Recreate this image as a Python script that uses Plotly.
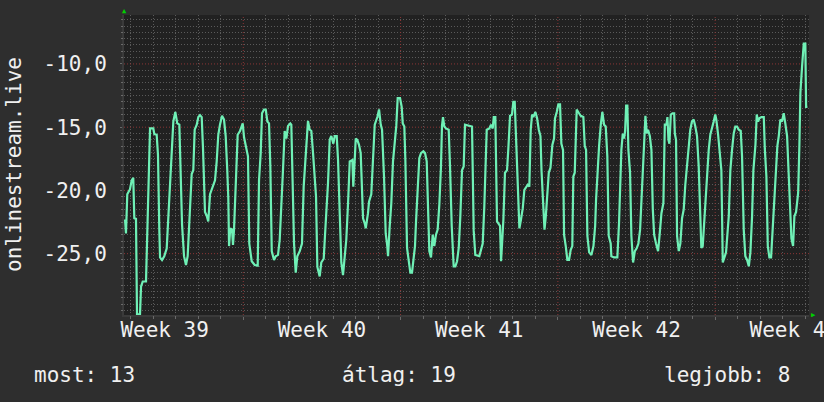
import pandas as pd
import plotly.graph_objects as go

# ---------------- data (hours after series start, value) ----------------
hours_a = [1.1, 2.1, 3.5, 6.4, 8.2, 9.9, 11.0, 12.8, 13.9, 17.1,
           18.2, 20.0, 23.5, 24.6, 26.4, 27.8, 31.3, 32.4, 34.9, 36.3,
           37.7, 38.5, 40.6, 43.0, 45.6, 48.1, 50.2, 51.6, 52.7, 54.8,
           56.9, 59.1, 60.1, 62.0, 64.1, 66.2, 68.0, 69.7, 72.3, 74.0,
           75.5, 77.7, 79.4, 81.2, 83.0, 84.4, 85.4, 86.5, 88.3, 90.0,
           91.9, 94.7, 97.2, 99.0, 100.7, 102.5, 104.7, 106.8, 108.6, 110.3,
           111.4, 112.2, 113.5, 115.4, 116.4, 117.5, 118.6, 120.4, 121.4, 123.9,
           125.7, 126.8, 128.2, 130.3, 132.4, 133.8, 136.4, 139.6, 142.8]
values_a = [-22.3, -23.4, -20.3, -19.9, -19.2, -19.0, -22.2, -22.25, -29.8, -29.8,
            -27.6, -27.2, -27.2, -23.8, -20.5, -15.1, -15.1, -15.55, -15.6, -17.2,
            -23.1, -25.3, -25.5, -25.2, -24.6, -20.9, -18.8, -16.0, -14.55, -13.8,
            -14.7, -14.8, -17.2, -22.7, -25.2, -25.9, -25.2, -22.8, -18.7, -18.4,
            -15.2, -14.8, -14.2, -14.05, -14.2, -16.7, -18.6, -21.7, -22.0, -22.45,
            -20.3, -19.7, -19.2, -17.7, -15.6, -14.8, -14.1, -14.4, -15.7, -18.4,
            -20.6, -24.4, -23.0, -23.1, -24.3, -23.1, -20.6, -17.8, -15.6, -15.3,
            -14.95, -14.7, -15.8, -16.5, -17.3, -24.2, -25.6, -25.9, -25.95]

hours_b = [144.2, 146.0, 147.4, 149.5, 151.4, 153.1, 154.9, 156.3, 157.8, 160.2,
           162.0, 164.5, 166.3, 168.0, 169.8, 171.6, 173.4, 175.2, 177.6, 178.7,
           179.8, 181.6, 183.4, 185.1, 187.7, 190.1, 191.9, 193.7, 195.5, 196.5,
           198.3, 200.1, 201.9, 203.7, 205.1, 206.5, 209.0, 210.7, 213.3, 215.4,
           217.9, 219.7, 221.4, 223.6, 225.1, 227.2, 228.6, 230.4, 232.1, 233.9,
           235.7, 237.4, 239.3, 241.1, 243.9, 244.9, 246.4, 247.5, 249.2, 251.0,
           252.8, 254.2, 255.3, 257.1, 258.2, 260.6, 261.7, 264.1, 266.0, 267.8,
           270.6, 272.4, 274.2, 275.6, 277.7, 279.5, 281.2, 282.0, 283.8, 285.5,
           287.3, 289.1, 290.8]
values_b = [-19.2, -17.05, -13.9, -13.6, -13.6, -14.55, -14.7, -18.1, -24.8, -25.5,
            -25.2, -25.1, -23.9, -20.6, -18.4, -15.3, -15.9, -14.9, -14.7, -14.8,
            -18.9, -24.2, -26.5, -25.2, -24.8, -24.2, -19.7, -17.8, -16.0, -14.5,
            -15.2, -15.3, -17.05, -18.9, -20.5, -26.05, -26.8, -25.7, -25.4, -22.6,
            -19.4, -16.0, -15.7, -16.3, -15.7, -15.7, -17.6, -21.8, -25.7, -26.7,
            -25.5, -23.9, -21.0, -17.7, -17.6, -19.7, -17.6, -15.9, -16.0, -16.4,
            -17.05, -19.95, -22.2, -22.6, -23.0, -21.8, -20.9, -20.3, -17.8, -14.8,
            -14.2, -13.6, -14.8, -15.2, -18.9, -23.4, -24.4, -25.2, -22.8, -21.0,
            -17.7, -16.3, -14.9]

hours_c = [292.3, 294.8, 296.6, 297.7, 299.4, 300.5, 302.3, 304.1, 305.8, 307.6,
           309.0, 310.8, 311.9, 313.7, 315.4, 317.2, 319.7, 321.5, 323.3, 325.0,
           326.1, 327.9, 329.7, 331.4, 333.2, 335.0, 336.8, 338.5, 339.6, 340.7,
           342.1, 343.9, 346.8, 348.2, 350.0, 352.1, 353.9, 355.7, 357.5, 359.2,
           361.0, 362.8, 364.2, 371.7, 373.5, 375.2, 379.5, 381.3, 383.1, 384.8,
           386.7, 387.4, 390.2, 392.0, 393.8, 394.9, 396.6, 397.3, 398.4, 401.6,
           402.7, 403.8, 405.2, 406.9, 409.1, 410.5, 412.3, 414.4, 415.8, 417.3,
           418.4, 419.5, 420.9, 422.3, 424.0, 425.9, 427.6, 431.2, 432.9, 434.4,
           435.8, 437.2, 439.4]
values_c = [-12.7, -12.7, -13.4, -14.7, -14.95, -17.6, -24.55, -25.5, -26.5, -26.5,
            -25.6, -24.4, -22.45, -19.55, -17.45, -17.05, -16.9, -17.05, -17.7, -22.05,
            -24.8, -25.3, -23.5, -24.4, -23.5, -23.1, -21.1, -18.2, -14.9, -14.2,
            -14.95, -15.1, -15.2, -18.1, -22.8, -26.0, -26.0, -25.6, -24.55, -22.05,
            -18.4, -18.1, -14.8, -14.95, -23.2, -25.1, -25.2, -24.7, -24.2, -21.3,
            -17.8, -15.2, -15.1, -14.8, -15.1, -14.2, -14.2, -17.3, -22.45, -22.8,
            -25.6, -24.2, -22.3, -18.6, -18.4, -16.7, -14.1, -14.0, -13.0, -13.0,
            -15.2, -17.4, -21.3, -23.0, -22.3, -21.4, -19.95, -19.55, -19.7, -15.2,
            -14.0, -14.2, -13.8]

hours_d = [441.2, 443.0, 444.8, 445.9, 447.6, 449.1, 450.5, 451.9, 453.7, 455.5,
           457.5, 459.3, 460.3, 462.2, 463.9, 465.7, 467.1, 468.9, 470.0, 471.8,
           473.5, 475.3, 477.1, 478.8, 479.9, 481.4, 482.5, 483.5, 486.0, 487.8,
           490.6, 492.1, 493.5, 494.9, 496.8, 499.2, 501.4, 503.2, 504.2, 505.6,
           507.4, 509.2, 510.9, 512.7, 514.5, 516.2, 517.7, 519.8, 520.5, 523.4,
           526.9, 528.7, 529.8, 531.2, 532.7, 534.1, 535.2, 536.3, 537.6, 538.7,
           540.5, 541.9, 543.7, 545.6, 547.7, 549.4, 551.2, 552.6, 554.1, 555.5,
           556.9, 558.4, 559.7, 561.6, 563.3, 564.8, 566.2, 568.2, 570.4, 572.2,
           574.0, 576.1, 577.6, 579.3, 580.4, 581.5, 582.5, 584.0, 585.8, 587.6]
values_d = [-14.3, -15.2, -15.7, -18.4, -21.0, -23.1, -22.05, -20.5, -18.6, -18.2,
            -16.4, -15.9, -14.3, -13.8, -13.2, -13.2, -16.3, -16.8, -23.5, -24.4,
            -25.5, -25.5, -24.7, -24.4, -18.9, -18.6, -15.2, -13.6, -13.9, -14.1,
            -14.2, -16.5, -16.8, -23.6, -24.9, -25.1, -24.4, -22.8, -20.7, -18.6,
            -16.5, -14.8, -13.8, -14.8, -14.95, -17.3, -23.6, -24.2, -25.2, -25.3,
            -25.3, -22.6, -18.9, -16.8, -15.5, -15.9, -15.3, -13.3, -13.3, -16.8,
            -18.6, -23.6, -25.7, -24.8, -24.55, -24.2, -23.1, -20.9, -17.8, -15.2,
            -14.1, -15.5, -15.2, -15.7, -16.8, -21.5, -23.5, -24.2, -24.8, -23.4,
            -21.8, -21.0, -14.8, -14.8, -14.2, -16.0, -16.3, -14.0, -13.9, -13.9]

hours_e = [588.3, 589.6, 590.7, 592.5, 594.2, 596.0, 597.8, 599.5, 601.3, 603.1,
           604.8, 606.6, 608.4, 610.2, 612.0, 613.8, 615.5, 616.6, 618.1, 619.8,
           621.6, 622.7, 624.5, 626.2, 628.0, 629.8, 631.5, 632.6, 634.4, 636.2,
           638.0, 639.5, 641.2, 643.0, 645.9, 647.6, 649.4, 651.2, 652.9, 654.8,
           656.6, 658.7, 660.1, 661.9, 663.6, 665.5, 667.3, 669.0, 670.8, 672.2,
           674.4, 675.8, 677.2, 678.6, 680.7, 683.3, 684.4, 686.1, 687.6, 689.3,
           691.1, 692.9, 694.6, 696.4, 697.8, 699.3, 701.0, 702.8, 704.6, 706.3,
           708.2, 710.0, 711.7, 712.8, 714.6, 716.0, 717.8, 720.0, 721.3, 722.4,
           724.2, 726.0, 727.7, 728.5, 729.9]
values_e = [-15.5, -16.0, -23.6, -24.8, -24.2, -22.2, -21.5, -19.55, -18.0, -16.4,
            -15.2, -14.55, -14.4, -14.95, -15.7, -18.1, -22.05, -24.55, -24.4, -22.3,
            -20.5, -18.9, -16.8, -15.6, -14.95, -14.55, -14.0, -14.4, -15.5, -16.8,
            -18.4, -25.7, -25.2, -24.9, -22.05, -18.4, -16.8, -15.5, -14.95, -14.95,
            -15.2, -15.3, -17.3, -23.1, -25.2, -25.5, -26.0, -24.9, -22.05, -18.4,
            -16.4, -14.0, -14.55, -14.3, -14.2, -14.2, -16.7, -18.9, -24.4, -25.3,
            -25.3, -23.1, -21.3, -18.9, -16.5, -15.7, -14.4, -14.55, -13.9, -14.7,
            -15.7, -18.9, -21.7, -23.8, -24.4, -22.05, -21.7, -20.2, -16.5, -12.3,
            -10.2, -8.4, -8.4, -13.4, -13.4]

series_start = "2023-09-26 16:36"
series_span_hours = 731.6
y_axis_title = "onlinestream.live"
y_tick_values = [-25, -20, -15, -10]
y_tick_labels = ["-25,0", "-20,0", "-15,0", "-10,0"]
stat_labels = ["most: 13", "átlag: 19", "legjobb: 8"]

# ---------------- build ----------------
hours = hours_a + hours_b + hours_c + hours_d + hours_e
values = values_a + values_b + values_c + values_d + values_e
n = min(len(hours), len(values))
start = pd.Timestamp(series_start)
times = start + pd.to_timedelta(hours[:n], unit="h")
end = start + pd.Timedelta(hours=series_span_hours)
y_range = [-29.85, -6.13]

# grid positions: daily minor lines (not Mondays), weekly major lines on Mondays
days = pd.date_range(start.normalize(), end.normalize() + pd.Timedelta(days=1), freq="D")
minor_days = [d for d in days if d.dayofweek != 0]
mondays = [d for d in days if d.dayofweek == 0 and start <= d <= end]
y_minor = [v / 2 for v in range(-62, -10) if v % 10 != 0]

LINE = "#6ff0b6"
MAJOR = "#8c3636"
MINOR = "#5a5a5a"
TICK = "#6a6a6a"
TEXT = "#f0f0f0"
FONT = "DejaVu Sans Mono"
DAY = 86400000
DOTS = "1px,2px"

fig = go.Figure()
# invisible copy on the overlay axes that carry the fine (daily / 0.5) grid
fig.add_trace(go.Scatter(x=times, y=values[:n], xaxis="x2", yaxis="y2", mode="lines",
                         line=dict(color="rgba(0,0,0,0)", width=1), hoverinfo="skip"))

# major (week / 5-unit) grid lines, dotted red, built from the axis positions
gx, gy = [], []
for d in mondays:
    gx += [d, d, None]
    gy += [y_range[0], y_range[1], None]
for v in y_tick_values:
    gx += [start, end, None]
    gy += [v, v, None]
fig.add_trace(go.Scatter(x=gx, y=gy, mode="lines", hoverinfo="skip", cliponaxis=True,
                         line=dict(color=MAJOR, width=1, dash=DOTS)))

fig.add_trace(go.Scatter(x=times, y=values[:n], mode="lines",
                         line=dict(color=LINE, width=2.2), hoverinfo="skip"))

fig.update_layout(
    width=824, height=402,
    margin=dict(l=124, r=15, t=15, b=87),
    paper_bgcolor="#2e2e2e", plot_bgcolor="#212121",
    showlegend=False,
    font=dict(family=FONT, size=21, color=TEXT),
    xaxis=dict(
        type="date", range=[start, end], automargin=False,
        tick0="2023-10-02", dtick=7 * DAY,
        ticklabelmode="period", tickformat="Week %V",
        ticklabeloverflow="allow", ticklabelstandoff=-8,
        showgrid=False,
        ticks="outside", ticklen=3, tickcolor=TICK,
        showline=True, linecolor="#3a3a3a", linewidth=2,
        zeroline=False,
    ),
    yaxis=dict(
        range=y_range, automargin=False,
        tickmode="array", tickvals=y_tick_values, ticktext=y_tick_labels,
        showgrid=False,
        ticks="outside", ticklen=2, tickcolor=TICK,
        ticklabelstandoff=9,
        showline=True, linecolor="#3a3a3a", linewidth=2,
        zeroline=False,
    ),
    xaxis2=dict(
        type="date", range=[start, end], overlaying="x", anchor="y2", side="bottom",
        automargin=False, tickmode="array", tickvals=minor_days, showticklabels=False,
        showgrid=True, gridcolor=MINOR, griddash=DOTS, gridwidth=1,
        ticks="outside", ticklen=3, tickcolor=TICK, zeroline=False, showline=False,
    ),
    yaxis2=dict(
        range=y_range, overlaying="y", anchor="x2", side="left",
        automargin=False, tickmode="array", tickvals=y_minor, showticklabels=False,
        showgrid=True, gridcolor=MINOR, griddash=DOTS, gridwidth=1,
        ticks="outside", ticklen=2, tickcolor=TICK, zeroline=False, showline=False,
    ),
)

def px_x(px):
    return (px - 124) / 685.0

def px_y(py):
    return (315 - py) / 300.0

ann = [
    dict(text=y_axis_title, x=px_x(14), y=px_y(165), textangle=-90,
         xanchor="center", yanchor="middle"),
    dict(text=stat_labels[0], x=px_x(32), y=px_y(375), xanchor="left", yanchor="middle"),
    dict(text=stat_labels[1], x=px_x(340), y=px_y(375), xanchor="left", yanchor="middle"),
    dict(text=stat_labels[2], x=px_x(792), y=px_y(375), xanchor="right", yanchor="middle"),
    dict(text="▲", x=px_x(124), y=px_y(10.5), xanchor="center", yanchor="middle",
         font=dict(size=7, color="#00d000")),
    dict(text="▶", x=px_x(813.5), y=px_y(314.5), xanchor="center", yanchor="middle",
         font=dict(size=7, color="#00d000")),
]
for a in ann:
    a.setdefault("font", dict(family=FONT, size=21, color=TEXT))
    fig.add_annotation(xref="paper", yref="paper", showarrow=False, **a)

fig.write_html("out.html", config={"displayModeBar": False},
               post_script="document.body.style.margin='0';document.body.style.overflow='hidden';")
